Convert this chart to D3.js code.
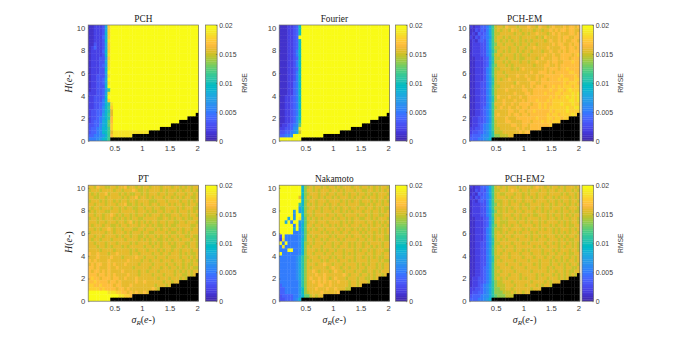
<!DOCTYPE html>
<html><head><meta charset="utf-8">
<script src="https://cdn.jsdelivr.net/npm/d3@7"></script>
<style>html,body{margin:0;padding:0;background:#fff}svg{display:block}
.tk text{font-family:"Liberation Sans",sans-serif;fill:#404040}
</style></head><body><div id="c"></div>
<script>
// Level alphabet: each character names one RMSE reading in levelValues. Short rows repeat their last level.
const LEVELS = "0123456789abcdefghijk";
const levelValues = [0,0.001,0.002,0.003,0.004,0.005,0.006,0.007,0.008,0.009,0.0097,0.0107,0.0117,0.0127,0.0137,0.0147,0.0157,0.0167,0.0177,0.0187,0.02];
const xTicks = [0.5, 1, 1.5, 2];
const yTicks = [0, 2, 4, 6, 8, 10];
const cbTicks = [0, 0.005, 0.01, 0.015, 0.02];
// number of black (no-data) rows at the bottom of each of the 40 sigma columns
const blackRows = [0,0,0,0,0,0,0,0, 1,1,1,1,1,1,1,1, 2,2,2,2,2,2, 3,3,3,3, 4,4,4,4, 5,5,5, 6,6,6, 7,7,7, 8];

const rowsPCH = ["1122238ikk","1122238ikk","1122239ikk","1122248ikk","1122239jkk","1132238ikk","1242238ikk","1222249ikk","1222239jkk","1222337ikk","1222338jkk","1222347jkk","1222339jkk","1222338kkk","1223337jkk","1223348kkk","1223348jkk","1223339kkk","1223347ckk","2223348jkk","2233349kkk","2233359ikk","2233459bjk","2233469cik","2334469bgk","2334479cgk","2334579bhk","2344589dhk","3344689dik","3445699cik","344569acgj","4455679chj","555679ac"];

const rowsFourier = ["1112234akk","1112234akk","1112234akk","1112234kkk","1112234akk","1112234akk","1112234akk","1112235akk","1112235akk","1112234akk","1112235akk","1112235akk","1112234akk","1112235akk","1112235akk","1112235akk","1112245akk","1112245akk","1112245akk","1112245akk","1122345akk","1122345akk","1122345akk","1122345akk","1122345akk","1122345akk","1122346akk","1122346bkk","1223456dkk","2233467jkk","3344568fkk","44556kkkkk","kkkkkkkk"];

const rowsPCHEM = [
"2122445 8cf ggfhgggfgg ghggfhggfg hggghghhgh",
"1132435 8cf gfggfhggfg gggfggfggh ghghhghhgg",
"1214345 8cf fgggggfggf gfgghgggfg hghggghhgh",
"2132445 7cf ggfgfgggfg ggggfgfhgg gghghhgghh",
"1213435 8cf gfgfgfggfg fgfggggfgh gghghgghhg",
"1222335 8ce ggfgggfgfg gfggfggggg hghhgghghh",
"1222335 8cf fgggfggfgg fgghgggghg ggghhghhgh",
"1222335 7be ggfgfggfgf ggfgggfggh gghghghhhh",
"1222335 7cf gfggggfgfg gfggggghgg hgghhhhghi",
"1122234 7bf fggfggfgff ggggfghggg hhghhhghhh",
"1122234 7bf ggfgfgggfg gfgghggghg hhgghhhihh",
"1122234 7ce gggfgfgggg gggfggghhg ghghhhhhhh",
"1122235 7cf fggggfgfgh ggggggghgh hhghhihhhh",
"1122235 7cf ggfggggggg gghgghhhgh ghhhhhiihh",
"1122235 7cf gggfggghgg hggghgghhh hhhihhhhih",
"1122235 7bf gfgghggggg ghgghghhgh hhihiihhii",
"1122335 7bf ggggggfhgg gghhgghhhh hhhhihiiih",
"1122335 7cf fgggghgggh gghghhhghh ihihiiihii",
"1122335 7cf ggghgggggh hgghhhhhhi hhiihijiii",
"1122335 7cf gggggghggg hhghhhhihh hiihiiijij",
"1122335 7bf hggghggghg ghhhhhhhhi hihiijijij",
"1122335 7bf gghggghggh ghhhihhhih iiiiiijjij",
"1122335 7cg gghgghgghh hhghhihihh iiijiiijii",
"1122345 7cf ghgghgghgh hghhhihihi iiiiijiijj",
"1122345 7cg gggghhgghh ghhihhhhhi hiiiijiiii",
"1122345 7cg hggghghhgh hghhhhhhih iihiiiijij",
"1223345 7cg ggghggghhh hhhhihhhii hiihiijjjj",
"1223345 7cf ggghhgggghh hghhhihih iiiihiiiii",
"1223456 8cf ggggghhggh hghhhhhhhi hhihiiiiii",
"2233456 8cf fgggggghgh gghhhhhhhh iihhihhiii",
"2334456 8bf ffgggggghg hhghhhhiih hhhihiiiii",
"3444566 8be efffggggfg ggghhhhhhh iiihiiiiii",
"44455679 bddeeefffgggg"];

const rowsPT = [
"ggfhggffgg fgghfggfgf ggfgggfggg fggfgfgfgg",
"fgggfggggf ggfggghgff gfggggfgfg ggfgfggfgf",
"gfgfgghfgg gfgfgffggf gfgggfggfg gfgggfggfg",
"ggffggfggg ggfgfgghfg gfgfgggfgg fgfgfggffg",
"fgggfgfggf gfggfggfgg ggfffgggfg gggfggfgfg",
"ggfgggfggg fgghffgfgf ggfggfgggf gfggfgfggf",
"gfggfgggfg gfgfggffgg fggfggffgg ggfgfgggff",
"fgfgggffgg gfgggggfgg gfgffggfgg fgfgggfgfg",
"ggfggfgghg fgfggfgfgg fgfgggfgff gggfggfggf",
"fggfgfgggf gfgfgfggff gggggffggf gfggfgffgg",
"gggfggfggg fggfghfgfg fgfggfggfg gffggfgggf",
"gfgggfggff gfggfgggfg gfgfgffgfg ffgggggffg",
"ggfgfgghgf ggfgggffgg fgggfgfggf ggfgfggfgg",
"fgggggfggf gggfgfgggf ggffggggfg ffggfgfggg",
"ggfggfgggg fgfggfggff gfggfgfggf ggfggffgff",
"gfggfgggfg gggfggggfg fgfggffgfg fggfgggfgf",
"ggfgggfggg fggggfgfgg ggfgfgfggf gfgggffggf",
"gggfggfgfg ggfgfggggg fggfggfggg ffggfgfggf",
"ggggfggggf gggggfgfgg gfgggfgfgg fggfgggfgg",
"hgghgggfgg hggggfggfg gggfggfggf gggfgfgffg",
"ggghgggghg ggfgggghgg fgggfgggfg gggfggfgfg",
"hghgggghgg gggghggggf ggfgggfggg fgggfggfgf",
"ghghhgghgh ggghggggfg gggfggggfg gfggfgffgg",
"hhghggghgg hgggggfggg ggfgggfggf ggfgfgfgff",
"hghhghghgg gghgggggfg gfgggfgggg gfgfgfgfgg",
"hhhghhghgh gggghgggfg gggfgggfgg gfggffgfgf",
"hihhghhhgh hgghggghgg gggggfgggf gggfgfgfgg",
"hhihhhhghh ghggggghgg hggggggfgg fggggfggff",
"iihhihhhhg hhggghgggg ggggfgggfg ggffgfggff",
"iiiihihhhh ghhghggggg ggghgfgggf gggfgfgfgf",
"kkkkkkkjjj iihhghghgg hggggggfgg ggfgggfggf",
"kkkkkkkkkk kjjiihhhhg hggghggggg gggggfgggg",
"kkkkkkkk"];

const rowsNakamoto = [
"kkkkkkkk9e fgfggfgfgg fgfgggfggf ggfgfgfggf",
"kkkkkkkk9e ggfgfgggfg gfgfgggfgg ffggfgfgfg",
"kkkkkkkkae fgggfggfgg fggfgfggfg gfgfgfgggf",
"kkkkkkkg9e gfggfgfggf gfgggfgfgg fgfggfggfg",
"kkkkkkkk9e fggfgggfgg ggfgfgfggf gggfgfgfgf",
"kkkkkkkc9e gfgfggfgfg gfggfggggf fgfgfggfgg",
"kkkkkkk7ae fggfgfggfg fgfggfggfg gfggfgfgff",
"kkkkk7k79e ggfggfgggf ggfgfgfggg fggfggfgfg",
"kkkkk6kk9e fgfggggfgg fggfggggfg gfgfggffgg",
"kkk8k7kj8d gfgfgfgggf gfggfgfggf fggfgfgggf",
"kk8k5kk78d fggfgggfgg ggfgfgfggg gfggfgfgfg",
"kkkkk5k69d ggfggfggfg fgfggfgggf ggfgfggfgf",
"kkkkk8k69d gfgfggfggg gfgfggfgfg fgfgggfgfg",
"kkkkk5568d fggggfgfgf ggfggfgggf gfggfgfgfg",
"3k55555 68d gfgfggggfg fgggfgfggg fgfgfgggf",
"2j55555 69d ggfggfgfgg gfgfggggfg gfggfgfgf",
"k5k5555 69e fgfgggfggf ggfggfgfgg fgfggggfg",
"5j55555 69e gfgggfgggf gfgggfgfgg fggfgfgfg",
"555kk55 69e gggfgfgfgg fggfgggfgf ggfgfgggf",
"k555555 69e ggfgggfggf gggfgfgfgg gfggfggfg",
"5555556 8be fgggfgggfg fggfgggfgg fgfgfgffg",
"5555556 8be gfgggfgfgg gfgggfgfgg ggfgggfgf",
"5555556 8be gggfgghggf gggfggggfg fgfggfgfg",
"5555556 8be gfgggggfgh ggfggfggfg gfgggfgfg",
"5555556 8be gghgfgggfg hggfgggfgg ffggfgfgg",
"5555556 8be ggghgghggg ggghgfgggf ggfgfggfg",
"5555556 8be ghgghghgfg hgggfgggfg gffgfgggf",
"5555555 7be gghghghghg ghgggfggfg ggfgfggfg",
"4555555 7be gggghhgghg gggggfggfg fgggfgfgg",
"4455555 7ae ggghggghgg hgggffgggf ggggfgfgg",
"4455555 7ae fgggghgggg ghgggfgfgg ffgfgggfg",
"3444455 79d dfgfgggggf gggffggfgg gfgggfggf",
"3344456 9"];

const rowsPCHEM2 = [
"2122445 8cf gfgfgggfgg ggfghggfgf ggfgfgggfg",
"1132435 8cf fggfghggfg gfgggfggfg gfggfggfgf",
"1214345 8cf gffgggfggf gfggfgggfg gggfgfggfg",
"2132445 7cf gggfgfgggf ggfgfggfgg fgfgggfgfg",
"1213435 8cf ffggfgfggf gggfggggfg gfgfggfggf",
"1222335 8ce gfggfgggfg ffggggfggf gfggfgfgfg",
"1222335 8cf ffgfgfggfg gfggfgfggf gggfgfgggf",
"1222335 7be gfgfggfggf gggfggfgfg gfgfggfgff",
"1222335 7cf ffgggfggfg gfgffgggfg fggfgfgfgg",
"1122234 7bf gfgfggfgfg fggggfggfg gfgfggfggf",
"1122234 7bf gfffgggfgg fgfggfgfgg ggfgfgfggf",
"1122234 7ce gfgfgfggfg gggfgfgggf gfggfgffgg",
"1122235 7cf ffggfggggf gfgggfgfgg fgfgggfgfg",
"1122235 7cf gfgfggfgfg ggfgfggggg fgfgfgfggf",
"1122235 7cf ggfggfgggg fgfggfgfgg gfgfgfggfg",
"1122235 7bf gfgfgggfgg ggfgfgggfg ggfgfgffgg",
"1122335 7bf fggggfgggf gfgggggfgg fgfggfgfgf",
"1122335 7cf gfgfggfggg gggfgfggfg ggfgfggfgf",
"1122335 7cf ggfgggfggf gfggggfggg fgfgggfggf",
"1122335 7cf gfggfgggfg ggfgggfgfg gfggfgffgg",
"1122335 7bf fgggfggggf gggfgggfgg fggfggfgfg",
"1122335 7bf gfggggfggg gfgggfgggf gfgfgfggfg",
"1122335 7cf gggfggggfg gggfgfgggf ggfgfgfggf",
"1122345 7cf fggggfgggg fggggfggfg fgggfggffg",
"1122345 7cf gfggggfggg ggfgggggfg gfggfgffgg",
"1122345 7cf fgggfgggfg ggggfgfggg fgfgfgfgff",
"1223345 7cf gfgfggggfg fgggfgggfg ggfgfgffgf",
"1223345 7be ffgggfgggg ggfggggfgf gggfggfgff",
"1223456 8be fffgggfggg fgggfgfggf gfgfgfggff",
"2233456 8be effggfgggg ggfgggfggg fgfgfgfgff",
"2334456 8be eefffgfggf gggfgggfgf ggffgfgfgf",
"3444566 8bd eeeffffgfg gfgfgggfgg fgfgfgfgff",
"44455679 bddeeeffffff"];

const panelTitles = ["PCH", "Fourier", "PCH-EM", "PT", "Nakamoto", "PCH-EM2"];
const panelRows = [rowsPCH, rowsFourier, rowsPCHEM, rowsPT, rowsNakamoto, rowsPCHEM2];

// MATLAB parula, 64 entries
const parula = [[.2422,.1504,.6603],[.2504,.1650,.7076],[.2578,.1818,.7511],[.2647,.1978,.7952],[.2706,.2147,.8364],[.2751,.2342,.8710],[.2783,.2559,.8991],[.2803,.2782,.9221],[.2813,.3006,.9414],[.2810,.3228,.9579],[.2795,.3447,.9717],[.2760,.3667,.9829],[.2699,.3892,.9906],[.2602,.4123,.9952],[.2440,.4358,.9988],[.2206,.4603,.9973],[.1963,.4847,.9892],[.1834,.5074,.9798],[.1786,.5289,.9682],[.1764,.5499,.9520],[.1687,.5703,.9359],[.1540,.5902,.9218],[.1460,.6091,.9079],[.1380,.6276,.8973],[.1248,.6459,.8883],[.1113,.6635,.8763],[.0952,.6798,.8598],[.0689,.6948,.8394],[.0297,.7082,.8163],[.0036,.7203,.7917],[.0067,.7312,.7660],[.0433,.7411,.7394],[.0964,.7500,.7120],[.1408,.7584,.6842],[.1717,.7670,.6554],[.1938,.7758,.6251],[.2161,.7843,.5923],[.2470,.7918,.5567],[.2906,.7973,.5188],[.3406,.8008,.4789],[.3909,.8029,.4354],[.4456,.8024,.3909],[.5044,.7993,.3480],[.5616,.7942,.3045],[.6174,.7876,.2612],[.6720,.7793,.2227],[.7242,.7698,.1910],[.7738,.7598,.1646],[.8203,.7498,.1535],[.8634,.7406,.1596],[.9035,.7330,.1774],[.9393,.7288,.2100],[.9728,.7298,.2394],[.9956,.7434,.2371],[.9970,.7659,.2199],[.9952,.7893,.2028],[.9892,.8136,.1885],[.9786,.8386,.1766],[.9676,.8639,.1643],[.9610,.8890,.1537],[.9597,.9135,.1423],[.9628,.9373,.1265],[.9691,.9606,.1064],[.9769,.9839,.0805]]
  .map(c => d3.rgb(c[0]*255, c[1]*255, c[2]*255).formatHex());

const W = 679, H = 339;
const COLS = 40, ROWS = 33, SIG = 0.05, HSTEP = 0.31;
const colX = [88.2, 279.2, 469.5], rowY = [25, 185.2];
const pw = 110.3, ph = 116, cbGap = [7, 6, 2.2], cbW = 11.6;
const ink = "#4d4d4d";

const svg = d3.select("#c").append("svg").attr("width", W).attr("height", H);
const defs = svg.append("defs");
const blur = defs.append("filter").attr("id", "soft").attr("x", "-2%").attr("y", "-2%").attr("width", "104%").attr("height", "104%");
blur.append("feGaussianBlur").attr("stdDeviation", 0.42).attr("edgeMode", "duplicate");
const color = d3.scaleQuantize().domain([0, 0.02]).range(parula);

function parseRows(rows) {
  return rows.map(r => {
    const s = r.replace(/\s+/g, "");
    const out = [];
    for (let i = 0; i < COLS; i++) {
      const ch = s[Math.min(i, s.length - 1)];
      out.push(levelValues[LEVELS.indexOf(ch)]);
    }
    return out;
  });
}

function label(g, italicFirst, sub, x, y, rot) {
  const t = g.append("text").attr("font-family", '"Liberation Serif",serif').attr("font-size", 10).attr("fill", "#262626")
    .attr("text-anchor", "middle").attr("transform", `translate(${x},${y}) rotate(${rot})`);
  t.append("tspan").attr("font-style", "italic").text(italicFirst);
  if (sub) t.append("tspan").attr("font-style", "italic").attr("font-size", 7).attr("dy", 2).text(sub);
  const a = t.append("tspan").text("("); if (sub) a.attr("dy", -2);
  t.append("tspan").attr("font-style", "italic").text("e");
  t.append("tspan").text("-)");
}

panelRows.forEach((rows, p) => {
  const c = p % 3, r = Math.floor(p / 3);
  const x0 = colX[c], y0 = rowY[r];
  const g = svg.append("g");
  const x = d3.scaleLinear().domain([0.025, 2.025]).range([x0, x0 + pw]);
  const y = d3.scaleLinear().domain([0, ROWS * HSTEP]).range([y0 + ph, y0]);
  const grid = parseRows(rows);
  const cells = [];
  grid.forEach((vals, i) => vals.forEach((v, j) => {
    const fromBottom = ROWS - 1 - i;
    cells.push({ s: SIG * (j + 1), h: HSTEP * (fromBottom + 0.5), v: fromBottom < blackRows[j] ? null : v });
  }));
  g.append("g").attr("filter", "url(#soft)").selectAll("rect").data(cells).join("rect")
    .attr("x", d => x(d.s - SIG / 2))
    .attr("y", d => y(d.h + HSTEP / 2))
    .attr("width", d => x(d.s + SIG / 2) - x(d.s - SIG / 2) + 0.35)
    .attr("height", d => Math.min(y(d.h - HSTEP / 2) - y(d.h + HSTEP / 2) + 0.35, y0 + ph - y(d.h + HSTEP / 2)))
    .attr("fill", d => d.v === null ? "#000" : color(d.v));

  // axes with inward ticks
  const style = (sel, fs) => {
    sel.attr("class", "tk");
    sel.selectAll("text").attr("font-size", fs);
    sel.selectAll("line").attr("stroke", ink).attr("stroke-width", 0.5);
    sel.select(".domain").attr("stroke", "none");
  };
  g.append("rect").attr("x", x0).attr("y", y0).attr("width", pw).attr("height", ph)
    .attr("fill", "none").attr("stroke", "#6e6e6e").attr("stroke-width", 0.7);
  g.append("g").attr("transform", `translate(0,${y0 + ph})`)
    .call(d3.axisBottom(x).tickValues(xTicks).tickFormat(d3.format("")).tickSize(-1.2).tickPadding(4.5))
    .call(s => style(s, 7.7));
  g.append("g").attr("transform", `translate(${x0},0)`)
    .call(d3.axisLeft(y).tickValues(yTicks).tickFormat(d3.format("")).tickSize(-1.2).tickPadding(3))
    .call(s => style(s, 7.7));

  // colour bar
  const bx = x0 + pw + cbGap[c];
  const cb = d3.scaleLinear().domain([0, 0.02]).range([y0 + ph, y0]);
  g.append("g").selectAll("rect").data(parula).join("rect")
    .attr("x", bx).attr("width", cbW)
    .attr("y", (d, i) => cb((i + 1) / 64 * 0.02))
    .attr("height", (d, i) => i === 0 ? ph / 64 : ph / 64 + 0.3)
    .attr("fill", d => d);
  g.append("rect").attr("x", bx).attr("y", y0).attr("width", cbW).attr("height", ph)
    .attr("fill", "none").attr("stroke", "#6e6e6e").attr("stroke-width", 0.7);
  g.append("g").attr("transform", `translate(${bx + cbW},0)`)
    .call(d3.axisRight(cb).tickValues(cbTicks).tickFormat(d3.format("")).tickSize(-1.2).tickPadding(2.2))
    .call(s => style(s, 6.9));
  g.append("text").attr("font-family", '"Liberation Sans",sans-serif').attr("font-size", 6.8).attr("fill", "#404040")
    .attr("text-anchor", "middle").attr("transform", `translate(${bx + cbW + 29.5},${y0 + ph / 2}) rotate(-90)`).text("RMSE");

  // title and labels
  g.append("text").attr("font-family", '"Liberation Serif",serif').attr("font-size", 9.3).attr("fill", "#1a1a1a")
    .attr("text-anchor", "middle").attr("x", x0 + pw / 2).attr("y", y0 - 3).text(panelTitles[p]);
  if (c === 0) label(g, "H", null, x0 - 16.5, y0 + ph / 2 - 1, -90);
  if (r === 1) label(g, "σ", "R", x0 + pw / 2, y0 + ph + 21.5, 0);
});
</script></body></html>
